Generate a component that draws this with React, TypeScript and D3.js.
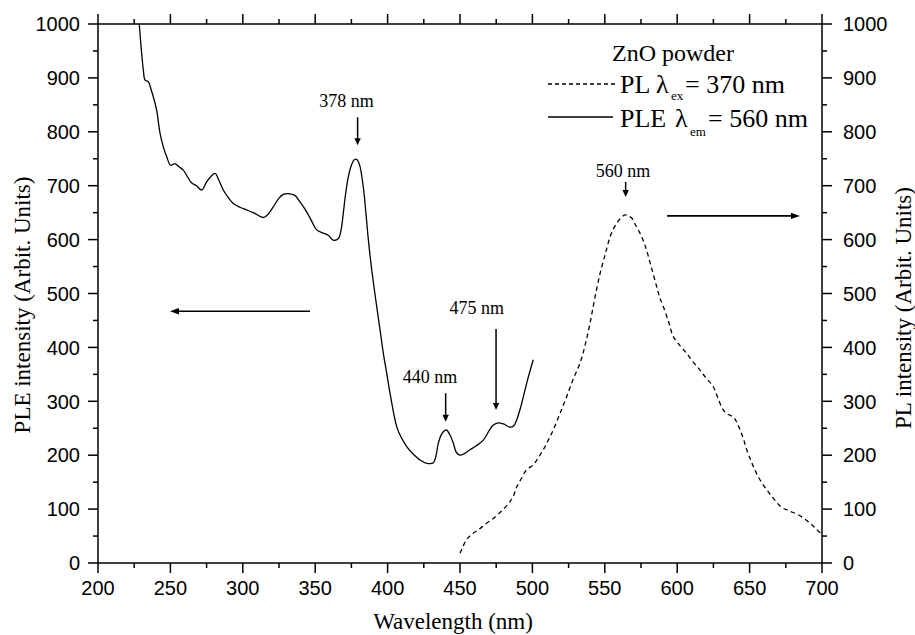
import React from "react";
import * as d3 from "d3";

// ---- data (wavelength nm, intensity) ----
const pleWavelength = [228.5,230,231.3,232.5,234.7,236.5,238.2,240.5,242.8,245.1,247.4,250.2,253.2,256,258.9,261.5,264.7,268,271.6,275,278,280.8,283.5,286.5,290,293.4,298,302.7,308,314.2,317.5,321.1,325,328,332.6,336,339.5,344,348,351,355.6,359,362.5,366,368,369.4,371,372.9,375,377,378.6,380.5,383.2,385,386.7,389,392,394.8,397,399.4,402,406.3,409,413.2,417,422.4,427,431.6,433.5,435,437.5,440.5,443,445.4,447.5,450,453,456.9,461,466.1,470,473,476.5,480,484.5,487,489.1,492,494.9,497.5,500.6];
const pleIntensity = [1000,950,915,896,893,880,865,840,798,772,754,738,741,735,729,718,705,700,692,707,717,723,710,692,678,667,660,655,649,641,647,661,677,684,685,682,670,652,632,618,612,608,599,602,620,649,685,717,738,748,749,740,698,650,600,545,485,432,390,352,310,253,235,216,204,191,185,186,200,222,240,247,238,222,205,200,203,210,217,228,245,256,260,258,252,254,265,290,321,348,377];

const plWavelength = [450,452,454.4,458,462.4,468,474.5,480,484.5,487,489,491.8,496,500.6,504,507.5,511,514.4,519,523.7,528,532.9,536.5,539.8,543,546.7,550,551.7,553.6,556,558.2,561,564,566,568.6,571,574.3,577,578.9,582,585.8,588,590.4,594,597.3,602,606.5,611,615.7,620,624.9,628,631.8,635,638.7,641,643.4,646,648,650.5,652.6,655.6,659.4,663.7,667,671.7,677,683.9,691.7,696,700];
const plIntensity = [18,30,43,53,61,73,86,100,114,125,140,154,173,182,195,210,228,247,277,309,340,371,405,445,490,537,570,587,605,620,630,640,646,644,640,628,612,595,580,550,513,492,476,448,420,403,389,373,358,343,327,307,284,276,271,262,247,228,210,193,179,162,145,129,118,104,97,89,74,63,53];

const xTicks = [200,250,300,350,400,450,500,550,600,650,700];
const yTicks = [0,100,200,300,400,500,600,700,800,900,1000];

// peak annotations: label, arrow x (nm), arrow top/bottom (intensity), label x, label y
const peakLabels = ["378 nm","440 nm","475 nm","560 nm"];
const peakArrowX = [379.3,440.1,474.9,564.4];
const peakArrowTop = [827,315,434,707];
const peakArrowBottom = [775,262,284,679];
const peakTextX = [371.7,429.3,461.5,562.6];
const peakTextY = [846,334,462,716];

// axis direction arrows: [from nm, to nm, intensity]
const leftArrow = [346.4, 249.7, 467];
const rightArrow = [593, 684.8, 644];

const W = 915, H = 635;
const M = { left: 98, right: 822, top: 24, bottom: 563 };

export default function App() {
  const x = d3.scaleLinear().domain([200, 700]).range([M.left, M.right]);
  const y = d3.scaleLinear().domain([0, 1000]).range([M.bottom, M.top]);
  const line = d3.line<[number, number]>().x(d => x(d[0])).y(d => y(d[1])).curve(d3.curveCatmullRom.alpha(0.5));
  const ple = pleWavelength.map((w, i) => [w, pleIntensity[i]] as [number, number]);
  const pl = plWavelength.map((w, i) => [w, plIntensity[i]] as [number, number]);

  const xMinor = d3.range(225, 700, 50);
  const yMinor = d3.range(50, 1000, 100);
  const sans = "'Liberation Sans', Arial, sans-serif";
  const serif = "'Liberation Serif', 'Times New Roman', serif";

  const head = (tx: number, ty: number, dir: "down" | "left" | "right", s = 7, w = 3.2) => {
    if (dir === "down") return `M${tx},${ty} L${tx - w},${ty - s} L${tx + w},${ty - s} Z`;
    if (dir === "left") return `M${tx},${ty} L${tx + s},${ty - w} L${tx + s},${ty + w} Z`;
    return `M${tx},${ty} L${tx - s},${ty - w} L${tx - s},${ty + w} Z`;
  };

  return (
    <svg width={W} height={H} style={{ position: "absolute", left: 0, top: 0, background: "#fff" }}>
      <defs>
        <clipPath id="plot">
          <rect x={M.left} y={M.top} width={M.right - M.left} height={M.bottom - M.top} />
        </clipPath>
      </defs>
      {/* frame */}
      <rect x={M.left} y={M.top} width={M.right - M.left} height={M.bottom - M.top} fill="none" stroke="#000" strokeWidth={1.5} />
      {/* x ticks bottom & top */}
      {xTicks.map(t => (
        <g key={"xt" + t}>
          <line x1={x(t)} x2={x(t)} y1={M.bottom} y2={M.bottom + 10} stroke="#000" strokeWidth={1.5} />
          <line x1={x(t)} x2={x(t)} y1={M.top} y2={M.top - 10} stroke="#000" strokeWidth={1.5} />
          <text x={x(t)} y={595} textAnchor="middle" fontFamily={sans} fontSize={20}>{t}</text>
        </g>
      ))}
      {xMinor.map(t => (
        <g key={"xm" + t}>
          <line x1={x(t)} x2={x(t)} y1={M.bottom} y2={M.bottom + 5} stroke="#000" strokeWidth={1.5} />
          <line x1={x(t)} x2={x(t)} y1={M.top} y2={M.top - 5} stroke="#000" strokeWidth={1.5} />
        </g>
      ))}
      {/* y ticks left & right */}
      {yTicks.map(t => (
        <g key={"yt" + t}>
          <line x1={M.left} x2={M.left - 10} y1={y(t)} y2={y(t)} stroke="#000" strokeWidth={1.5} />
          <line x1={M.right} x2={M.right + 10} y1={y(t)} y2={y(t)} stroke="#000" strokeWidth={1.5} />
          <text x={80} y={y(t)} dy="0.36em" textAnchor="end" fontFamily={sans} fontSize={20}>{t}</text>
          <text x={843} y={y(t)} dy="0.36em" textAnchor="start" fontFamily={sans} fontSize={20}>{t}</text>
        </g>
      ))}
      {yMinor.map(t => (
        <g key={"ym" + t}>
          <line x1={M.left} x2={M.left - 5} y1={y(t)} y2={y(t)} stroke="#000" strokeWidth={1.5} />
          <line x1={M.right} x2={M.right + 5} y1={y(t)} y2={y(t)} stroke="#000" strokeWidth={1.5} />
        </g>
      ))}
      {/* axis titles */}
      <text x={453} y={629} textAnchor="middle" fontFamily={serif} fontSize={23}>Wavelength (nm)</text>
      <text transform="translate(22,305) rotate(-90)" textAnchor="middle" dominantBaseline="central" fontFamily={serif} fontSize={23}>PLE intensity (Arbit. Units)</text>
      <text transform="translate(903,308) rotate(-90)" textAnchor="middle" dominantBaseline="central" fontFamily={serif} fontSize={23}>PL intensity (Arbit. Units)</text>

      {/* curves */}
      <g clipPath="url(#plot)">
        <path d={line(ple) || ""} fill="none" stroke="#000" strokeWidth={1.3} />
        <path d={line(pl) || ""} fill="none" stroke="#000" strokeWidth={1.3} strokeDasharray="4.5,3.5" />
      </g>

      {/* peak annotations */}
      {peakLabels.map((lab, i) => (
        <g key={lab}>
          <text x={x(peakTextX[i])} y={y(peakTextY[i])} textAnchor="middle" fontFamily={serif} fontSize={18}>{lab}</text>
          <line x1={x(peakArrowX[i])} x2={x(peakArrowX[i])} y1={y(peakArrowTop[i])} y2={y(peakArrowBottom[i]) - 6} stroke="#000" strokeWidth={1.5} />
          <path d={head(x(peakArrowX[i]), y(peakArrowBottom[i]), "down")} fill="#000" />
        </g>
      ))}

      {/* direction arrows */}
      <line x1={x(leftArrow[0])} x2={x(leftArrow[1]) + 6} y1={y(leftArrow[2])} y2={y(leftArrow[2])} stroke="#000" strokeWidth={1.6} />
      <path d={head(x(leftArrow[1]), y(leftArrow[2]), "left", 9, 3.2)} fill="#000" />
      <line x1={x(rightArrow[0])} x2={x(rightArrow[1]) - 6} y1={y(rightArrow[2])} y2={y(rightArrow[2])} stroke="#000" strokeWidth={1.6} />
      <path d={head(x(rightArrow[1]), y(rightArrow[2]), "right", 9, 3.2)} fill="#000" />

      {/* legend */}
      <text x={612} y={61} fontFamily={serif} fontSize={24}>ZnO powder</text>
      <line x1={548} x2={617} y1={84} y2={84} stroke="#000" strokeWidth={1.3} strokeDasharray="4,3" />
      <text x={620} y={93} fontFamily={serif} fontSize={26}>PL</text>
      <text x={656} y={93} fontFamily={serif} fontSize={26}>λ</text>
      <text x={671} y={100} fontFamily={serif} fontSize={13}>ex</text>
      <text x={685} y={93} fontFamily={serif} fontSize={26}>= 370 nm</text>
      <line x1={548} x2={613} y1={117} y2={117} stroke="#000" strokeWidth={1.3} />
      <text x={620} y={127} fontFamily={serif} fontSize={26}>PLE</text>
      <text x={675} y={127} fontFamily={serif} fontSize={26}>λ</text>
      <text x={690} y={136} fontFamily={serif} fontSize={13}>em</text>
      <text x={708} y={127} fontFamily={serif} fontSize={26}>= 560 nm</text>
    </svg>
  );
}
